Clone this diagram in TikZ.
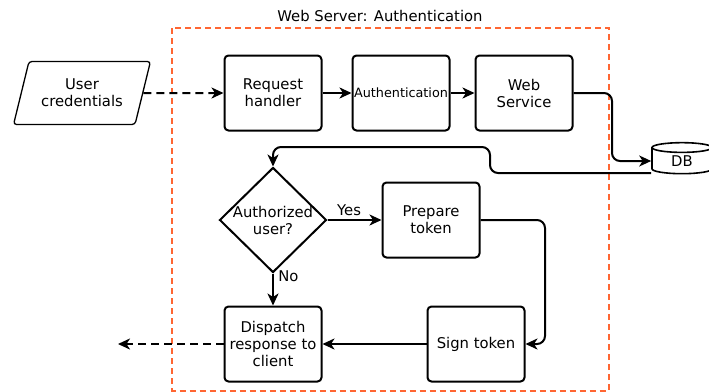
\documentclass[tikz,border=0pt]{standalone}
\usepackage{fontspec}
\setmainfont{DejaVu Sans}
\usetikzlibrary{arrows.meta,shapes.geometric}
\definecolor{srvorange}{RGB}{255,102,51}

\begin{document}
\begin{tikzpicture}[x=1pt,y=-1pt,
    every node/.style={font=\fontsize{14.8}{17}\selectfont, align=center},
    box/.style={draw, line width=2pt, rounded corners=4pt, minimum width=97pt, minimum height=75pt, inner sep=0pt},
    decision/.style={draw, line width=2pt, diamond, minimum width=107pt, minimum height=105pt, inner sep=0pt},
    io/.style={draw, line width=1.3pt, trapezium, trapezium left angle=67, trapezium right angle=113,
        trapezium stretches=true, minimum width=137pt, minimum height=63pt, rounded corners=3pt, inner sep=0pt},
    store/.style={draw, line width=1.6pt, cylinder, shape border rotate=90, aspect=0.45,
        minimum width=60pt, minimum height=31pt, inner sep=0pt},
    flow/.style={line width=2pt, -{Stealth[length=12pt,width=11pt,inset=3.5pt]}},
    dashflow/.style={flow, dash pattern=on 8pt off 5pt}]
    \useasboundingbox (0,0) rectangle (709,391);
    \draw[srvorange, line width=2pt, dash pattern=on 6pt off 4pt] (172,28) rectangle (609,390.5);
    \node (title) at (380,16) {Web Server: Authentication};

    \node[io] (cred) at (82,93) {User\\credentials};
    \node[box] (req) at (273,93) {Request\\handler};
    \node[box, font=\fontsize{12.8}{15}\selectfont] (auth) at (401,93) {Authentication};
    \node[box] (web) at (524,93) {Web\\Service};
    \node[store] (db) at (682,161) {DB};
    \node[decision, label={[align=center]center:Authorized\\user?}] (chk) at (273,220) {};
    \node[box] (prep) at (431,220) {Prepare\\token};
    \node[box] (sign) at (476,344) {Sign token};
    \node[box] (disp) at (273,344) {Dispatch\\response to\\client};
    \coordinate (out) at (118,344);

    \draw[dashflow] (cred.east) -- (req.west);
    \draw[flow] (req.east) -- (auth.west);
    \draw[flow] (auth.east) -- (web.west);
    \draw[flow, rounded corners=8pt] (web.east) -- (612,93) |- (db.west);
    \draw[flow, rounded corners=8pt] ([yshift=-12pt]db.west) -| (490,147) -| (chk.north);
    \draw[flow] (chk.east) -- node[above, pos=0.4] {Yes} (prep.west);
    \draw[flow, rounded corners=8pt] (prep.east) -- (545,220) |- (sign.east);
    \draw[flow] (sign.west) -- (disp.east);
    \draw[flow] (chk.south) -- node[right=1pt, pos=0.1] {No} (disp.north);
    \draw[dashflow] (disp.west) -- (out);
\end{tikzpicture}
\end{document}
